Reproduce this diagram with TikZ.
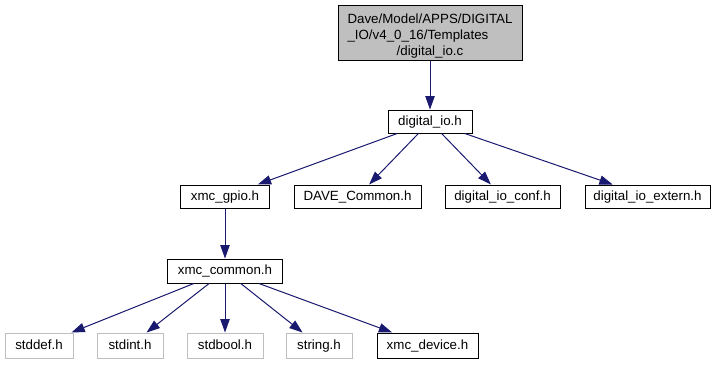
\documentclass[tikz,border=0pt]{standalone}
\usepackage{fontspec}
\setmainfont{Liberation Sans}
\usetikzlibrary{arrows.meta}

\definecolor{edgeblue}{HTML}{191970}
\definecolor{srcfill}{HTML}{BFBFBF}
\definecolor{sysborder}{HTML}{BFBFBF}

\begin{document}
\begin{tikzpicture}[x=0.75pt, y=-0.75pt,
  file/.style={draw=black, line width=0.75pt, inner sep=0pt,
    minimum height=17.25pt, text height=7.5pt, text depth=1.8pt,
    font=\fontsize{10}{12}\selectfont},
  sysfile/.style={file, draw=sysborder},
  srcfile/.style={draw=black, fill=srcfill, line width=0.75pt, inner sep=0pt,
    minimum width=138pt, minimum height=41.25pt},
  dep/.style={draw=edgeblue, line width=0.75pt,
    -{Triangle[length=10pt, width=7pt]}}]

\useasboundingbox (0,0) rectangle (717,365);

% source file at the top
\node[srcfile] (src) at (430,32.5) {};
\node[inner sep=0pt, font=\fontsize{10}{12}\selectfont] (srctext)
  at ([yshift=-3.2pt]src.center)
  {\begin{tabular}{@{}l@{}}Dave/Model/APPS/DIGITAL\\
   \_IO/v4\_0\_16/Templates\\
   \multicolumn{1}{@{}c@{}}{/digital\_io.c}\end{tabular}};

% first level
\node[file, minimum width=63pt] (dio) at (430,121.5) {digital\_io.h};

% second level
\node[file, minimum width=66.75pt] (gpio) at (225,196.5) {xmc\_gpio.h};
\node[file, minimum width=95.25pt] (dave) at (357.5,196.5) {DAVE\_Common.h};
\node[file, minimum width=86.25pt] (conf) at (502.5,196.5) {digital\_io\_conf.h};
\node[file, minimum width=93.75pt] (ext) at (647.5,196.5) {digital\_io\_extern.h};

% third level
\node[file, minimum width=86.25pt, minimum height=18pt] (common) at (225,271) {xmc\_common.h};

% headers included by xmc_common.h
\node[sysfile, minimum width=51pt, minimum height=18.75pt] (stddef) at (39,345.5) {stddef.h};
\node[sysfile, minimum width=49.5pt, minimum height=18.75pt] (stdint) at (130,345.5) {stdint.h};
\node[sysfile, minimum width=57pt, minimum height=18.75pt] (stdbool) at (225,345.5) {stdbool.h};
\node[sysfile, minimum width=49.5pt, minimum height=18.75pt] (string) at (319,345.5) {string.h};
\node[file, minimum width=75.75pt, minimum height=18.75pt] (device) at (427.5,345.5) {xmc\_device.h};

% include edges
\draw[dep] (src) -- (dio);
\draw[dep] (dio) -- (gpio);
\draw[dep] (dio) -- (dave);
\draw[dep] (dio) -- (conf);
\draw[dep] (dio) -- (ext);
\draw[dep] (gpio) -- (common);
\draw[dep] (common) -- (stddef);
\draw[dep] (common) -- (stdint);
\draw[dep] (common) -- (stdbool);
\draw[dep] (common) -- (string);
\draw[dep] (common) -- (device);
\end{tikzpicture}
\end{document}
